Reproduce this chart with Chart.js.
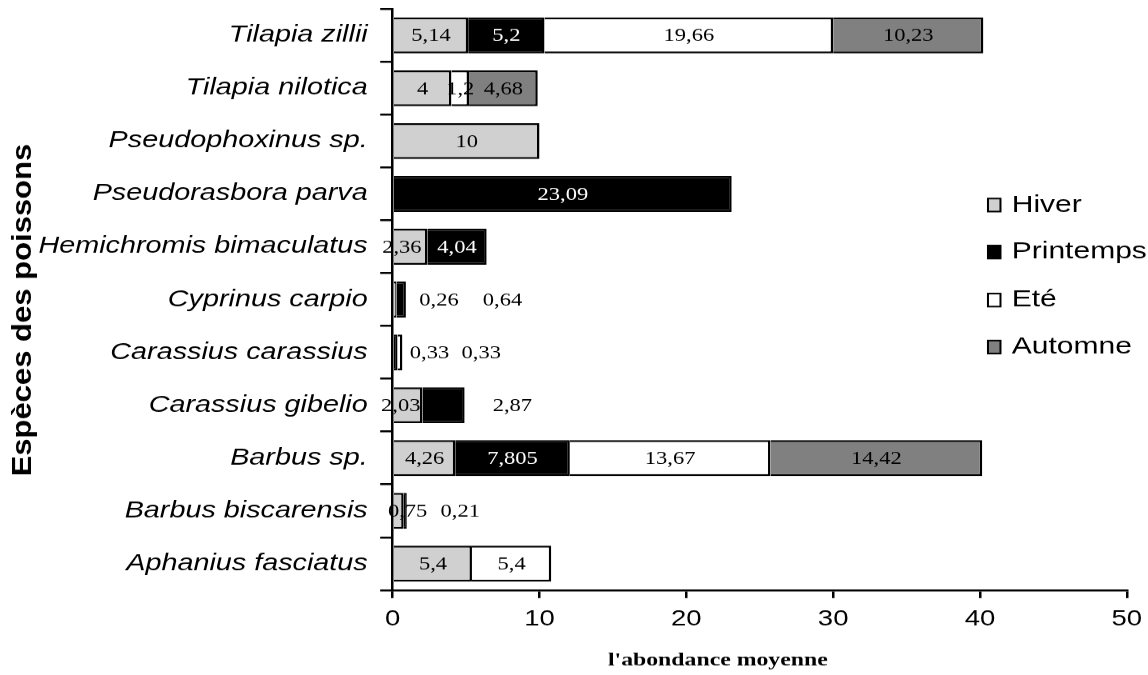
<!DOCTYPE html>
<html lang="fr">
<head>
<meta charset="utf-8">
<title>Abondance moyenne des espèces de poissons</title>
<script src="https://cdn.jsdelivr.net/npm/chart.js@4.4.1/dist/chart.umd.min.js"></script>
<style>
  html, body { margin: 0; padding: 0; background: #fff; }
</style>
</head>
<body>
<!-- laid out 918 px wide, shown stretched to 1148 px -->
<canvas id="abondanceChart" width="918" height="675" style="width:1148px;height:675px;display:block"></canvas>
<script>
// Species, top to bottom
const especes = [
  'Tilapia zillii',
  'Tilapia nilotica',
  'Pseudophoxinus sp.',
  'Pseudorasbora parva',
  'Hemichromis bimaculatus',
  'Cyprinus carpio',
  'Carassius carassius',
  'Carassius gibelio',
  'Barbus sp.',
  'Barbus biscarensis',
  'Aphanius fasciatus'
];

// Mean abundance per season (null = not recorded)
const hiver     = [5.14, 4,    10,   null,  2.36, 0.26, null, 2.03, 4.26,  0.75, 5.4];
const printemps = [5.2,  null, null, 23.09, 4.04, 0.64, 0.33, 2.87, 7.805, 0.21, null];
const ete       = [19.66, 1.2, null, null,  null, null, 0.33, null, 13.67, null, 5.4];
const automne   = [10.23, 4.68, null, null, null, null, null, null, 14.42, null, null];

const xTicks = [0, 10, 20, 30, 40, 50];

// Labels of thin segments are pushed sideways so they stay readable (px)
const labelShift = {
  'Hemichromis bimaculatus': [-7, 0],
  'Cyprinus carpio': [35, 81],
  'Carassius carassius': [0, 27, 65],
  'Carassius gibelio': [-6, 55],
  'Barbus biscarensis': [7, 44]
};

const STRETCH = 1.2506;

function makeDataset(label, data, color) {
  return {
    label: label,
    data: data,
    backgroundColor: color,
    borderColor: '#000',
    borderWidth: 2,
    borderSkipped: 'start',
    barPercentage: 0.68,
    categoryPercentage: 1
  };
}

// Value labels written on each segment
const valueLabels = {
  id: 'valueLabels',
  afterDatasetsDraw(chart) {
    const ctx = chart.ctx;
    ctx.save();
    ctx.font = '18px "Liberation Serif", "Times New Roman", serif';
    ctx.textAlign = 'center';
    ctx.textBaseline = 'middle';
    chart.data.datasets.forEach((ds, di) => {
      chart.getDatasetMeta(di).data.forEach((bar, i) => {
        const v = ds.data[i];
        if (v === null || v === undefined) return;
        const shifts = labelShift[especes[i]];
        const dx = shifts ? (shifts[di] || 0) : 0;
        ctx.fillStyle = (ds.backgroundColor === '#000000' && dx === 0) ? '#fff' : '#000';
        ctx.fillText(String(v).replace('.', ','), (bar.x + bar.base) / 2 + dx, bar.y + 1);
      });
    });
    ctx.restore();
  }
};

// Season legend, rotated y title and x title
const sideTexts = {
  id: 'sideTexts',
  afterDraw(chart) {
    const ctx = chart.ctx;
    ctx.save();
    ctx.fillStyle = '#000';
    ctx.textAlign = 'left';
    ctx.textBaseline = 'middle';
    ctx.font = '24px "Liberation Sans", Arial, sans-serif';
    const rows = [205, 252, 300, 347];
    chart.data.datasets.forEach((ds, i) => {
      const y = rows[i];
      ctx.fillStyle = ds.backgroundColor;
      ctx.fillRect(790, y - 6.5, 10, 13);
      ctx.strokeStyle = '#000';
      ctx.lineWidth = 1.6;
      ctx.strokeRect(790, y - 6.5, 10, 13);
      ctx.fillStyle = '#000';
      ctx.fillText(ds.label, 809, y);
    });

    ctx.textAlign = 'center';
    ctx.textBaseline = 'alphabetic';
    ctx.font = 'bold 19px "Liberation Serif", "Times New Roman", serif';
    ctx.fillText("l'abondance moyenne", 574, 665);

    ctx.translate(18.5, 310);
    ctx.rotate(-Math.PI / 2);
    ctx.scale(1, 0.73);
    ctx.textBaseline = 'middle';
    ctx.font = 'bold 31px "Liberation Sans", Arial, sans-serif';
    ctx.fillText('Espèces des poissons', 0, 0);
    ctx.restore();
  }
};

function initChart() {
  const canvas = document.getElementById('abondanceChart');
  new Chart(canvas, {
    type: 'bar',
    data: {
      labels: especes,
      datasets: [
        makeDataset('Hiver', hiver, '#d0d0d0'),
        makeDataset('Printemps', printemps, '#000000'),
        makeDataset('Eté', ete, '#ffffff'),
        makeDataset('Automne', automne, '#808080')
      ]
    },
    options: {
      indexAxis: 'y',
      responsive: false,
      animation: false,
      devicePixelRatio: STRETCH,
      layout: { padding: { top: 9, right: 17, bottom: 3, left: 0 } },
      plugins: {
        legend: { display: false },
        tooltip: { enabled: false }
      },
      scales: {
        x: {
          stacked: true,
          min: 0,
          max: 50,
          afterBuildTicks: scale => {
            scale.ticks = xTicks.map(v => ({ value: v }));
          },
          afterFit: scale => {
            scale.height = 82;
            scale.paddingLeft = 0;
            scale.paddingRight = 0;
          },
          ticks: {
            color: '#000',
            padding: 8,
            font: { family: '"Liberation Sans", Arial, sans-serif', size: 22 }
          },
          grid: {
            drawOnChartArea: false,
            tickLength: 8,
            color: '#000',
            lineWidth: 2
          },
          border: { color: '#000', width: 2 }
        },
        y: {
          stacked: true,
          afterFit: scale => {
            scale.width = 314;
            scale.paddingTop = 0;
            scale.paddingBottom = 0;
          },
          ticks: {
            color: '#000',
            padding: 10,
            font: { family: '"Liberation Sans", Arial, sans-serif', size: 23, style: 'italic' }
          },
          grid: {
            drawOnChartArea: false,
            tickLength: 10,
            color: '#000',
            lineWidth: 2
          },
          border: { color: '#000', width: 2 }
        }
      }
    },
    plugins: [valueLabels, sideTexts]
  });
}

document.addEventListener('DOMContentLoaded', initChart);
</script>
</body>
</html>
